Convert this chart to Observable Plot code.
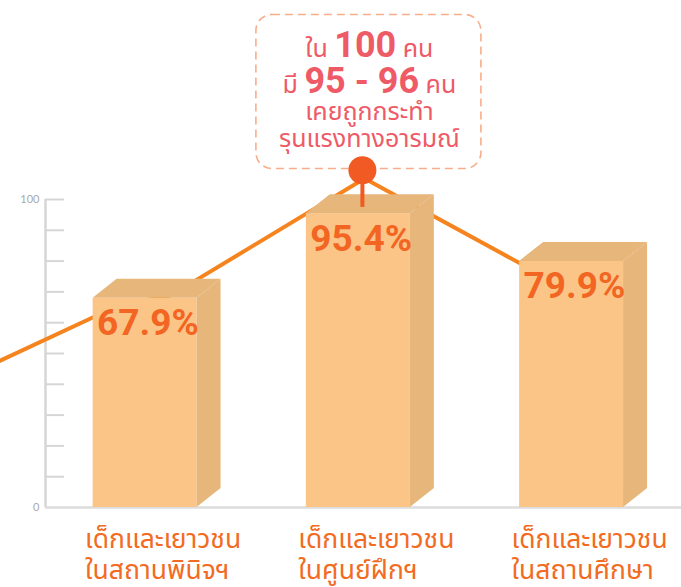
<!DOCTYPE html>
<html><head><meta charset="utf-8">
<script src="https://cdn.jsdelivr.net/npm/d3@7"></script>
<script src="https://cdn.jsdelivr.net/npm/@observablehq/plot@0.6"></script>
<style>
html,body{margin:0;padding:0;background:#fff;overflow:hidden;}
#chart{width:681px;height:587px;}
</style></head><body><div id="chart"></div>
<script>
// ---- data ----
const categories = ["เด็กและเยาวชน\nในสถานพินิจฯ", "เด็กและเยาวชน\nในศูนย์ฝึกฯ", "เด็กและเยาวชน\nในสถานศึกษา"];
const values = [67.9, 95.4, 79.9];
const valueLabels = ["67.9%", "95.4%", "79.9%"];
const yTickLabels = [0, 100];
const yMinorTicks = [10, 20, 30, 40, 50, 60, 70, 80, 90, 100];
// trend line (x in bar-index units, y in percent units)
const lineX = [-0.725, -0.115, 0.119, 1.029, 2.004];
const lineY = [46.2, 65.9, 68.8, 106.8, 70.0];
// pin above the middle bar
const pinX = 1.019;
const pinY = 109.5;
const annotationLines = ["ใน 100 คน", "มี 95 - 96 คน", "เคยถูกกระทำ", "รุนแรงทางอารมณ์"];

// ---- styles / layout ----
const W = 681, H = 587, ML = 45, MB = 80;
const thaiFont = '"Noto Sans Thai","Noto Sans Thai UI","Noto Looped Thai","Sarabun","Loma","Garuda","Waree","Umpush","Kinnari","Noto Sans",sans-serif';
const numFont = 'Roboto, "Liberation Sans", sans-serif';
const hw = 0.2438;      // half bar width (index units)
const dX = 0.1125;      // 3D depth in x
const dY = 6.17;        // 3D depth in y
const frontC = "#fbc588", sideC = "#e6b67b", topC = "#e6b67b";
const pinC = "#f15a22", lineC = "#f5841f", labelC = "#f26522";
const annoC = "#ee5a66", boxC = "#f8ad8a", axisC = "#d6d6d6";
const annoDy = [-113, -77, -50, -23];

const bars = categories.map((c, i) => ({i, cat: c, v: values[i], label: valueLabels[i]}));
const sideFaces = bars.flatMap(b => [
  {bar: b.i, x: b.i + hw, y1: 0, y2: b.v},
  {bar: b.i, x: b.i + hw + dX, y1: dY, y2: b.v + dY}
]);
const topFaces = bars.flatMap(b => [
  {bar: b.i, x: b.i - hw, y1: b.v, y2: b.v},
  {bar: b.i, x: b.i - hw + dX, y1: b.v, y2: b.v + dY},
  {bar: b.i, x: b.i + hw, y1: b.v, y2: b.v + dY},
  {bar: b.i, x: b.i + hw + dX, y1: b.v + dY, y2: b.v + dY}
]);
const linePts = lineX.map((x, k) => ({x, y: lineY[k]}));
const pin = [{x: pinX, y: pinY, base: values[1] + dY * 0.33}];
const xDomain = [-(144.6 - ML) / 213.25, (W - 144.6) / 213.25];

const plot = Plot.plot({
  width: W, height: H,
  marginLeft: ML, marginRight: 0, marginTop: 0, marginBottom: MB,
  x: {type: "linear", domain: xDomain, axis: null},
  y: {type: "linear", domain: [0, 507 / 3.08], axis: null},
  style: {background: "white", overflow: "visible"},
  marks: [
    // y axis
    Plot.ruleX([xDomain[0]], {y1: 0, y2: 100, stroke: axisC, strokeWidth: 2.5}),
    Plot.ruleY(yMinorTicks, {stroke: axisC, strokeWidth: 2, insetRight: W - ML - 19}),
    Plot.text(yTickLabels, {x: () => xDomain[0], y: d => d, text: d => String(d), textAnchor: "end", dx: -6, fill: "#a9a9a9", fontSize: 11, fontFamily: "Lato, sans-serif"}),
    Plot.ruleY([0], {stroke: "#dcdcdc", strokeWidth: 2.5}),
    // annotation box
    Plot.rect(pin, {x1: d => d.x + 0.0305 - 0.5276, x2: d => d.x + 0.0305 + 0.5276, y1: d => d.y + 0.4, y2: d => d.y + 50.4, rx: 16, fill: "white", stroke: boxC, strokeWidth: 1.6, strokeDasharray: "8,5"}),
    // trend line
    Plot.line(linePts, {x: "x", y: "y", stroke: lineC, strokeWidth: 4}),
    // bars
    Plot.rect(bars, {x1: d => d.i - hw, x2: d => d.i + hw, y1: 0, y2: "v", fill: frontC}),
    Plot.areaY(sideFaces, {x: "x", y1: "y1", y2: "y2", z: "bar", fill: sideC, curve: "linear"}),
    Plot.areaY(topFaces, {x: "x", y1: "y1", y2: "y2", z: "bar", fill: topC, curve: "linear"}),
    // pin
    Plot.ruleX(pin, {x: "x", y1: "base", y2: "y", stroke: pinC, strokeWidth: 4}),
    Plot.dot(pin, {x: "x", y: "y", r: 14, fill: pinC}),
    // value labels
    Plot.text(bars, {x: d => d.i - hw, y: "v", text: "label", textAnchor: "start", lineAnchor: "bottom", dx: 4, dy: 37, fill: labelC, fontSize: 37, fontWeight: 700, fontFamily: numFont}),
    // category labels
    Plot.text(bars, {x: d => d.i - hw, y: () => 0, text: "cat", textAnchor: "start", lineAnchor: "top", dx: -8, dy: 19, lineHeight: 1.16, fill: "#f26b22", fontSize: 26.5, fontFamily: thaiFont}),
    // annotation text, one line per mark
    ...annotationLines.map((t, k) => Plot.text([t], {x: () => pinX, y: () => pinY, text: d => d, textAnchor: "middle", lineAnchor: "bottom", dx: 7, dy: annoDy[k], fill: annoC, fontSize: 25, fontFamily: thaiFont}))
  ]
});

// emphasise the numbers in the annotation
d3.select(plot).selectAll("text").each(function () {
  const t = this.textContent;
  if (t === annotationLines[0] || t === annotationLines[1]) {
    const parts = t.split(/(\d+\s*-\s*\d+|\d+)/);
    const sel = d3.select(this);
    sel.text(null);
    parts.forEach(p => {
      if (!p) return;
      const ts = sel.append("tspan").text(p);
      if (/\d/.test(p)) ts.attr("font-weight", 700).attr("font-size", 36).attr("font-family", numFont);
    });
  }
});
document.getElementById("chart").appendChild(plot);
</script></body></html>
